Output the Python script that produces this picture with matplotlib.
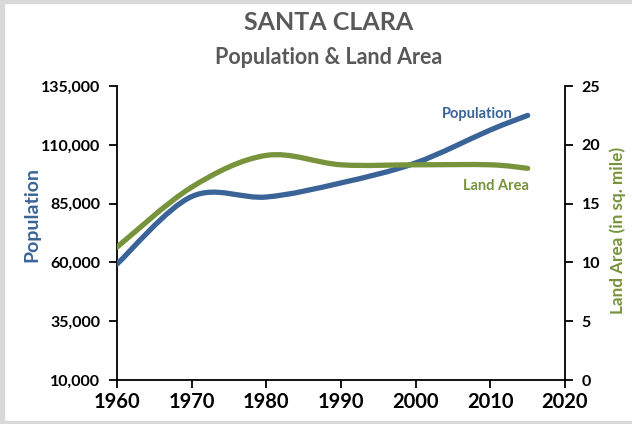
import numpy as np
import matplotlib
matplotlib.use("Agg")
import matplotlib.pyplot as plt
from matplotlib.path import Path
from matplotlib.patches import PathPatch, Rectangle
from matplotlib.ticker import FuncFormatter

plt.rcParams['font.family'] = ['Lato', 'DejaVu Sans']

years = [1960, 1970, 1980, 1990, 2000, 2010, 2015]
population = [59300, 88000, 87800, 93800, 102300, 116300, 122500]
land_area = [11.3, 16.4, 19.1, 18.3, 18.3, 18.3, 18.0]

BLUE = "#3A6497"
GREEN = "#77933C"
GREY_TXT = "#595959"


def smooth_path(xs, ys):
    # Excel-style smoothed line: cubic bezier with catmull-rom control points
    pts = np.column_stack([xs, ys]).astype(float)
    n = len(pts)
    verts = [pts[0]]
    codes = [Path.MOVETO]
    for i in range(n - 1):
        p0 = pts[i - 1] if i > 0 else pts[i]
        p1, p2 = pts[i], pts[i + 1]
        p3 = pts[i + 2] if i + 2 < n else pts[i + 1]
        c1 = p1 + (p2 - p0) / 6.0
        c2 = p2 - (p3 - p1) / 6.0
        verts += [c1, c2, p2]
        codes += [Path.CURVE4] * 3
    return Path(verts, codes)


fig = plt.figure(figsize=(6.32, 4.24), dpi=100)
fig.patch.set_facecolor("white")

# light grey frame of the screenshot
fig.patches.append(Rectangle((0, 0), 4 / 632, 1, transform=fig.transFigure,
                             color="#D9D9D9", zorder=0))
fig.patches.append(Rectangle((0, 0), 1, 3 / 424, transform=fig.transFigure,
                             color="#D9D9D9", zorder=0))
fig.patches.append(Rectangle((0, 1 - 3 / 424), 1, 3 / 424, transform=fig.transFigure,
                             color="#D9D9D9", zorder=0))

ax = fig.add_axes([117 / 632, 44 / 424, 448 / 632, 294 / 424])
ax2 = ax.twinx()

ax.set_xlim(1960, 2020)
ax.set_ylim(10000, 135000)
ax2.set_ylim(0, 25)

ax.add_patch(PathPatch(smooth_path(years, population), fill=False,
                       edgecolor=BLUE, lw=3.8, capstyle="round", zorder=3))
ax2.add_patch(PathPatch(smooth_path(years, land_area), fill=False,
                        edgecolor=GREEN, lw=3.8, capstyle="round", zorder=3))

ax.set_xticks(range(1960, 2021, 10))
ax.set_yticks(range(10000, 135001, 25000))
ax2.set_yticks(range(0, 26, 5))
ax.yaxis.set_major_formatter(FuncFormatter(lambda v, p: f"{int(v):,}"))

for a in (ax, ax2):
    a.spines["top"].set_visible(False)
    for s in a.spines.values():
        s.set_linewidth(1.3)
ax.spines["right"].set_visible(False)
ax2.spines["left"].set_visible(False)
ax2.spines["bottom"].set_visible(False)

ax.tick_params(axis="x", length=6, width=1.3, labelsize=14.5, pad=3)
ax.tick_params(axis="y", length=6, width=1.3, labelsize=11.5, pad=6)
ax2.tick_params(axis="y", length=6, width=1.3, labelsize=11.5, pad=6)
for lab in ax.get_xticklabels() + ax.get_yticklabels() + ax2.get_yticklabels():
    lab.set_fontweight("bold")
    lab.set_color("#000000")

# axis titles
fig.text(32 / 632, 1 - 214 / 424, "Population", color=BLUE, fontsize=14,
         fontweight="bold", rotation=90, ha="center", va="center")
fig.text(618 / 632, 1 - 230 / 424, "Land Area (in sq. mile)", color=GREEN,
         fontsize=12.3, fontweight="bold", rotation=90, ha="center", va="center")

ax.text(2008.3, 123100, "Population", color=BLUE, fontsize=10.5,
        fontweight="bold", ha="center", va="center")
ax2.text(2010.8, 16.5, "Land Area", color=GREEN, fontsize=10.5,
         fontweight="bold", ha="center", va="center", transform=ax2.transData)

fig.text(0.52, 1 - 22 / 424, "SANTA CLARA", color=GREY_TXT, fontsize=18,
         fontweight="bold", ha="center", va="center")
fig.text(0.52, 1 - 57 / 424, "Population & Land Area", color=GREY_TXT,
         fontsize=15.5, fontweight="bold", ha="center", va="center")

fig.savefig("out.png", dpi=100)
